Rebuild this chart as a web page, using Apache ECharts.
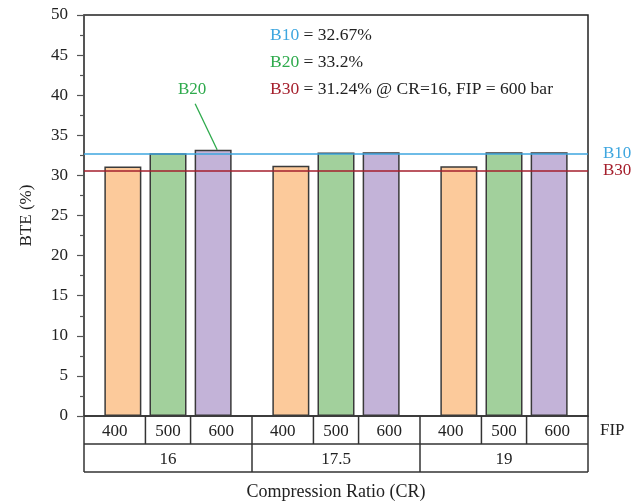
<!DOCTYPE html>
<html>
<head>
<meta charset="utf-8">
<script src="https://cdn.jsdelivr.net/npm/echarts@6/dist/echarts.min.js"></script>
<style>
  html, body { margin: 0; padding: 0; background: #fff; }
  #chart { width: 638px; height: 502px; }
</style>
</head>
<body>
<div id="chart"></div>
<script>
// Brake thermal efficiency of B20 by compression ratio (groups) and fuel injection pressure (bars)
const crValues = ['16', '17.5', '19'];
const fipValues = ['400', '500', '600'];
const bteFip400 = [31.1, 31.2, 31.15];
const bteFip500 = [32.75, 32.85, 32.9];
const bteFip600 = [33.2, 32.9, 32.9];
const yMin = 0, yMax = 50, yStep = 5;

// Reference levels of the other blends
const refNames = ['B10', 'B30'];
const refLevels = [32.67, 30.55];
const refColors = ['#3ea6df', '#a51f2c'];

// Annotation block: [blend, rest of line]
const noteBlends = ['B10', 'B20', 'B30'];
const noteTexts = [' = 32.67%', ' = 33.2%', ' = 31.24% @ CR=16, FIP = 600 bar'];
const noteColors = ['#3ea6df', '#2eaa4c', '#a51f2c'];

const FONT = '"Liberation Serif", "DejaVu Serif", serif';
const INK = '#222';
const barFills = ['#fcca9b', '#a2d09c', '#c3b3d8'];
const seriesData = [bteFip400, bteFip500, bteFip600];

const chart = echarts.init(document.getElementById('chart'), null, { renderer: 'canvas' });

const series = seriesData.map((vals, s) => ({
  type: 'bar',
  name: fipValues[s],
  data: vals,
  barWidth: 37,
  barGap: '22%',
  itemStyle: { color: barFills[s], borderColor: '#3a3a3a', borderWidth: 1.5 },
  silent: true,
  z: 2
}));

series[0].markLine = {
  silent: true,
  symbol: 'none',
  animation: false,
  data: refLevels.map((v, i) => ({
    yAxis: v,
    name: refNames[i],
    lineStyle: { color: refColors[i], width: 1.5, type: 'solid' },
    label: { show: true, position: 'end', formatter: refNames[i], color: refColors[i],
             fontFamily: FONT, fontSize: 17, distance: 15 }
  })),
  z: 5
};

chart.setOption({
  animation: false,
  backgroundColor: '#fff',
  grid: { left: 84, right: 50, top: 15, bottom: 86, outerBoundsMode: 'none', containLabel: false,
          show: true, borderColor: '#222', borderWidth: 1.5, backgroundColor: 'transparent' },
  xAxis: {
    type: 'category',
    data: crValues,
    axisLine: { show: true, lineStyle: { color: '#333', width: 1.5 } },
    axisTick: { show: false },
    axisLabel: { show: false },
    name: 'Compression Ratio (CR)',
    nameLocation: 'middle',
    nameGap: 67,
    nameTextStyle: { fontFamily: FONT, fontSize: 18, color: INK }
  },
  yAxis: {
    type: 'value',
    min: yMin, max: yMax, interval: yStep,
    name: 'BTE (%)',
    nameLocation: 'middle',
    nameGap: 49,
    nameTextStyle: { fontFamily: FONT, fontSize: 17, color: INK },
    axisLine: { show: true, lineStyle: { color: '#555', width: 1.5 } },
    axisTick: { show: true, inside: false, length: 7, lineStyle: { color: '#555', width: 1.2 } },
    minorTick: { show: true, splitNumber: 2, length: 4, lineStyle: { color: '#555', width: 1.2 } },
    splitLine: { show: false },
    axisLabel: { fontFamily: FONT, fontSize: 17, color: INK, margin: 16 }
  },
  series: series
});

// Category table under the axis and the B20 callout, positioned from the bar layout
const rect = chart.getModel().getComponent('grid').coordinateSystem.getRect();
const yBase = chart.convertToPixel({ yAxisIndex: 0 }, 0);
const rowH = 28;
const band = rect.width / crValues.length;
const lineStyle = { stroke: '#333', lineWidth: 1.5 };
const g = [];
const hLine = (x1, x2, y) => g.push({ type: 'line', shape: { x1, y1: y, x2, y2: y }, style: lineStyle, silent: true });
const vLine = (x, y1, y2) => g.push({ type: 'line', shape: { x1: x, y1, x2: x, y2 }, style: lineStyle, silent: true });
const label = (text, x, y, opts) => g.push({ type: 'text', x, y, silent: true,
  style: Object.assign({ text, fontFamily: FONT, fontSize: 17, fill: INK, align: 'center', verticalAlign: 'middle' }, opts || {}) });

const layouts = seriesData.map((_, s) => chart.getModel().getSeriesByIndex(s).getData());
const barBox = (s, i) => {
  const l = layouts[s].getItemLayout(i);
  const top = Math.min(l.y, l.y + l.height);
  return { left: l.x, right: l.x + l.width, top };
};

hLine(rect.x, rect.x + rect.width, yBase + rowH);
hLine(rect.x, rect.x + rect.width, yBase + 2 * rowH);
for (let k = 0; k <= crValues.length; k++) vLine(rect.x + k * band, yBase, yBase + 2 * rowH);
crValues.forEach((cr, i) => {
  const gl = rect.x + i * band, gr = gl + band;
  const cuts = [gl];
  for (let s = 0; s < fipValues.length - 1; s++) {
    const m = (barBox(s, i).right + barBox(s + 1, i).left) / 2;
    cuts.push(m);
    vLine(m, yBase, yBase + rowH);
  }
  cuts.push(gr);
  fipValues.forEach((f, s) => label(f, (cuts[s] + cuts[s + 1]) / 2, yBase + rowH / 2 + 2));
  label(cr, gl + band / 2, yBase + rowH * 1.5 + 2);
});
label('FIP', rect.x + rect.width + 12, yBase + rowH / 2 + 1, { align: 'left' });

// B20 callout pointing at the tallest bar
const peak = barBox(2, 0);
const px = (peak.left + peak.right) / 2 + 4, py = peak.top;
g.push({ type: 'line', shape: { x1: px - 22, y1: py - 46, x2: px, y2: py }, style: { stroke: '#2eaa4c', lineWidth: 1.3 }, silent: true });
label('B20', px - 25, py - 60, { fill: '#2eaa4c' });

// Annotation block
noteBlends.forEach((b, i) => {
  g.push({ type: 'text', x: 270, y: 35 + i * 27, silent: true,
    style: { text: '{c|' + b + '}{t|' + noteTexts[i] + '}', verticalAlign: 'middle', align: 'left',
      rich: { c: { fill: noteColors[i], fontFamily: FONT, fontSize: 17.5 }, t: { fill: INK, fontFamily: FONT, fontSize: 17.5 } } } });
});

chart.setOption({ graphic: g });
</script>
</body>
</html>
